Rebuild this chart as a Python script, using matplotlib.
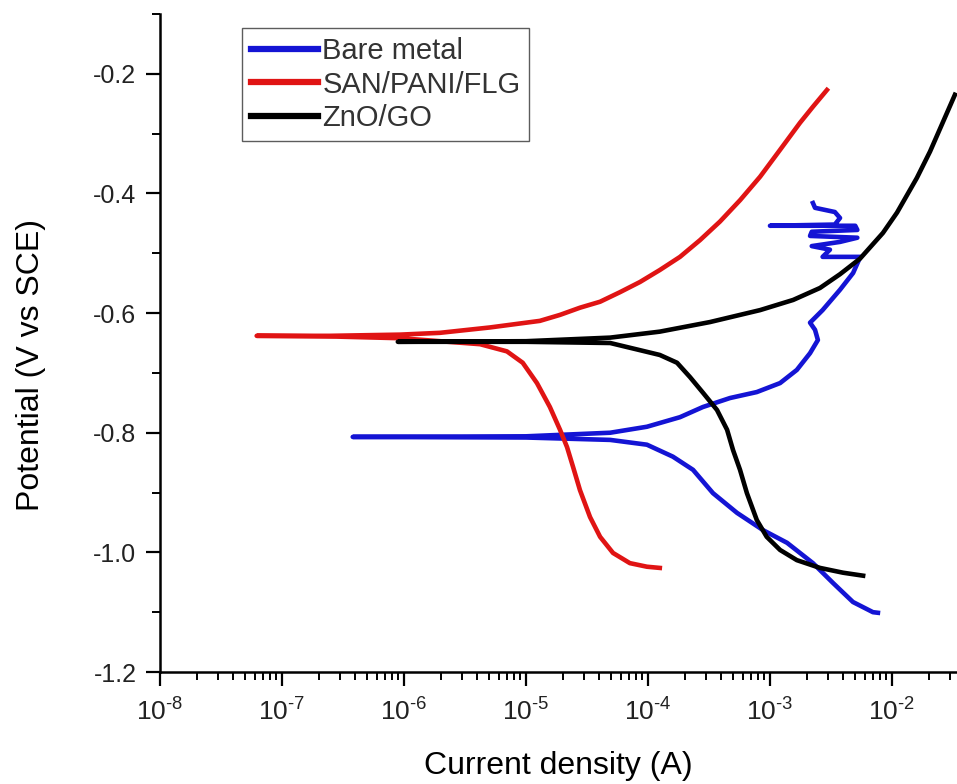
import matplotlib
matplotlib.use("Agg")
import matplotlib.pyplot as plt
from matplotlib.ticker import LogLocator, MultipleLocator, FuncFormatter
import numpy as np

plt.rcParams['font.family'] = ['Liberation Sans', 'DejaVu Sans']
plt.rcParams['mathtext.default'] = 'regular'
plt.rcParams['text.color'] = '#222222'

# polarisation scans, cathodic end -> Ecorr -> anodic end
bare_i = [7.67e-3, 6.98e-3, 4.79e-3, 3.28e-3, 2.25e-3, 1.38e-3, 8.8e-4, 5.37e-4,
          3.41e-4, 2.34e-4, 1.6e-4, 9.8e-5, 4.9e-5, 1.0e-5, 3.8e-7,
          1.0e-5, 4.9e-5, 9.8e-5, 1.83e-4, 2.82e-4, 4.7e-4, 7.8e-4, 1.21e-3,
          1.66e-3, 2.13e-3, 2.47e-3, 2.34e-3, 2.13e-3, 2.7e-3, 3.75e-3, 4.8e-3,
          5.5e-3,
          2.7e-3, 3.1e-3, 2.2e-3, 3.75e-3, 5.2e-3, 2.13e-3, 2.2e-3, 5.2e-3, 5.0e-3,
          1.0e-3, 3.4e-3, 3.75e-3, 3.4e-3, 2.34e-3, 2.25e-3]
bare_E = [-1.101, -1.100, -1.083, -1.051, -1.018, -0.984, -0.963, -0.934,
          -0.901, -0.862, -0.840, -0.820, -0.812, -0.808, -0.807,
          -0.806, -0.800, -0.790, -0.774, -0.757, -0.742, -0.732, -0.717,
          -0.695, -0.667, -0.645, -0.628, -0.616, -0.595, -0.561, -0.533,
          -0.506,
          -0.506, -0.494, -0.488, -0.481, -0.474, -0.471, -0.464, -0.461, -0.454,
          -0.454, -0.452, -0.441, -0.431, -0.424, -0.416]

san_i = [1.25e-4, 9.8e-5, 7.1e-5, 5.17e-5, 4.05e-5, 3.35e-5, 2.77e-5, 2.43e-5,
         2.17e-5, 1.9e-5, 1.57e-5, 1.23e-5, 9.4e-6, 6.98e-6, 4.2e-6, 9.3e-7,
         2.47e-7, 6.2e-8,
         2.47e-7, 9.3e-7, 1.97e-6, 5.07e-6, 1.3e-5, 1.9e-5, 2.77e-5, 4.05e-5,
         5.9e-5, 8.6e-5, 1.25e-4, 1.83e-4, 2.67e-4, 3.89e-4, 5.7e-4, 8.3e-4,
         1.21e-3, 1.76e-3, 2.25e-3, 2.93e-3]
san_E = [-1.026, -1.024, -1.018, -1.001, -0.974, -0.941, -0.896, -0.857,
         -0.824, -0.795, -0.757, -0.717, -0.683, -0.664, -0.652, -0.642,
         -0.639, -0.638,
         -0.638, -0.636, -0.633, -0.624, -0.613, -0.603, -0.591, -0.581,
         -0.565, -0.548, -0.528, -0.506, -0.478, -0.447, -0.411, -0.372,
         -0.327, -0.282, -0.255, -0.227]

zno_i = [5.8e-3, 3.97e-3, 2.57e-3, 1.66e-3, 1.21e-3, 9.4e-4, 7.8e-4, 6.47e-4,
         5.68e-4, 4.98e-4, 4.45e-4, 3.68e-4, 2.82e-4, 2.21e-4, 1.73e-4, 1.25e-4,
         8.6e-5, 4.9e-5, 1.0e-5, 8.9e-7,
         1.0e-5, 4.9e-5, 1.25e-4, 3.22e-4, 8.3e-4, 1.55e-3, 2.57e-3, 3.75e-3,
         5.47e-3, 8.43e-3, 1.1e-2, 1.6e-2, 2.05e-2, 3.28e-2]
zno_E = [-1.039, -1.034, -1.026, -1.013, -0.996, -0.974, -0.946, -0.901,
         -0.862, -0.829, -0.795, -0.762, -0.733, -0.707, -0.683, -0.670,
         -0.662, -0.650, -0.648, -0.648,
         -0.647, -0.641, -0.631, -0.615, -0.595, -0.578, -0.558, -0.535,
         -0.509, -0.466, -0.432, -0.374, -0.330, -0.235]

fig = plt.figure(figsize=(9.57, 7.84), dpi=100, facecolor='white')
ax = fig.add_axes([160/957, 112/784, 797/957, 658/784])

ax.plot(bare_i, bare_E, color='#1414d4', lw=3.3, label='Bare metal', solid_joinstyle='round')
ax.plot(san_i, san_E, color='#e01414', lw=3.3, label='SAN/PANI/FLG', solid_joinstyle='round')
ax.plot(zno_i, zno_E, color='black', lw=3.3, label='ZnO/GO', solid_joinstyle='round')

ax.set_xscale('log')
ax.set_xlim(1e-8, 10 ** -1.467)
ax.set_ylim(-1.2, -0.1)

def dec_label(v, pos):
    e = int(round(np.log10(v)))
    return '10$^{\u2010%d}$' % abs(e)

ax.xaxis.set_major_locator(LogLocator(base=10, numticks=12))
ax.xaxis.set_minor_locator(LogLocator(base=10, subs=range(2, 10), numticks=12))
ax.xaxis.set_major_formatter(FuncFormatter(dec_label))
ax.yaxis.set_major_locator(MultipleLocator(0.2))
ax.yaxis.set_minor_locator(MultipleLocator(0.1))
ax.yaxis.set_major_formatter(FuncFormatter(lambda v, p: '%.1f' % v))

for s in ['top', 'right']:
    ax.spines[s].set_visible(False)
for s in ['left', 'bottom']:
    ax.spines[s].set_linewidth(1.8)

ax.tick_params(which='major', direction='out', length=10, width=1.6,
               colors='black', labelcolor='#222222')
ax.tick_params(which='minor', direction='out', length=6, width=1.4, colors='black')
ax.tick_params(axis='y', labelsize=18, pad=7)
ax.tick_params(axis='x', labelsize=19, pad=9)

ax.set_xlabel('Current density (A)', fontsize=23, labelpad=18)
ax.set_ylabel('Potential (V vs SCE)', fontsize=23, labelpad=34)
ax.yaxis.label.set_y(0.467)

leg = ax.legend(loc='upper left', bbox_to_anchor=(242/957, 1 - 28/784),
                bbox_transform=fig.transFigure, fontsize=21, frameon=True,
                fancybox=False, edgecolor='#333333', borderaxespad=0,
                handlelength=2.3, handletextpad=0.15, labelspacing=0.2,
                borderpad=0.3)
leg.get_frame().set_linewidth(1.0)
for h in leg.legend_handles:
    h.set_linewidth(4.5)
for t in leg.get_texts():
    t.set_color('#333333')

fig.savefig('out.png', dpi=100, facecolor='white')
